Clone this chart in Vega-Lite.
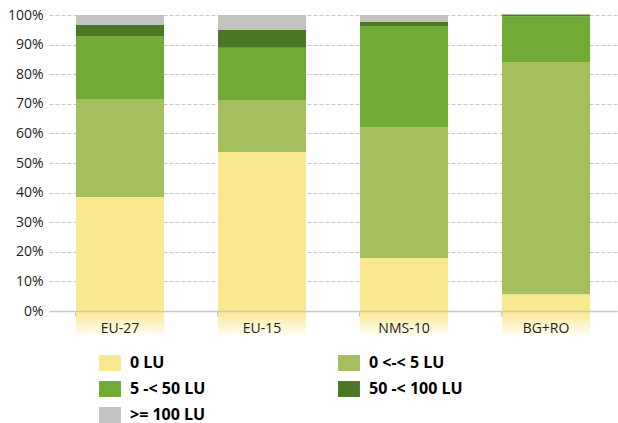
{
  "$schema": "https://vega.github.io/schema/vega-lite/v6.json",
  "autosize": "none",
  "width": 568,
  "height": 296,
  "padding": {"left": 49, "top": 15, "right": 1, "bottom": 112},
  "background": "white",
  "data": {"values": [
    {"region": "EU-27", "cls": "0 LU", "o": 1, "v": 38.5},
    {"region": "EU-27", "cls": "0 <-< 5 LU", "o": 2, "v": 33.1},
    {"region": "EU-27", "cls": "5 -< 50 LU", "o": 3, "v": 21.3},
    {"region": "EU-27", "cls": "50 -< 100 LU", "o": 4, "v": 3.7},
    {"region": "EU-27", "cls": ">= 100 LU", "o": 5, "v": 3.4},
    {"region": "EU-15", "cls": "0 LU", "o": 1, "v": 53.7},
    {"region": "EU-15", "cls": "0 <-< 5 LU", "o": 2, "v": 17.6},
    {"region": "EU-15", "cls": "5 -< 50 LU", "o": 3, "v": 17.6},
    {"region": "EU-15", "cls": "50 -< 100 LU", "o": 4, "v": 6.0},
    {"region": "EU-15", "cls": ">= 100 LU", "o": 5, "v": 5.1},
    {"region": "NMS-10", "cls": "0 LU", "o": 1, "v": 17.9},
    {"region": "NMS-10", "cls": "0 <-< 5 LU", "o": 2, "v": 44.3},
    {"region": "NMS-10", "cls": "5 -< 50 LU", "o": 3, "v": 34.1},
    {"region": "NMS-10", "cls": "50 -< 100 LU", "o": 4, "v": 1.3},
    {"region": "NMS-10", "cls": ">= 100 LU", "o": 5, "v": 2.4},
    {"region": "BG+RO", "cls": "0 LU", "o": 1, "v": 5.7},
    {"region": "BG+RO", "cls": "0 <-< 5 LU", "o": 2, "v": 78.4},
    {"region": "BG+RO", "cls": "5 -< 50 LU", "o": 3, "v": 15.5},
    {"region": "BG+RO", "cls": "50 -< 100 LU", "o": 4, "v": 0.6},
    {"region": "BG+RO", "cls": ">= 100 LU", "o": 5, "v": 0.0}
  ]},
  "encoding": {
    "x": {
      "field": "region", "type": "nominal", "sort": null,
      "scale": {"paddingInner": 0.38, "paddingOuter": 0.19},
      "axis": {
        "title": null, "labelAngle": 0, "bandPosition": 0, "zindex": 2,
        "domainColor": "#c8c8c8", "domainWidth": 1.5,
        "tickColor": "#c8c8c8", "tickSize": 5, "ticks": true,
        "labelFont": "Open Sans", "labelFontSize": 14, "labelColor": "#231f20",
        "labelPadding": 5, "grid": false
      }
    }
  },
  "layer": [
    {
      "transform": [{"filter": "datum.o == 1"}],
      "mark": {
        "type": "bar", "clip": false,
        "color": {"gradient": "linear", "x1": 0, "y1": 0, "x2": 0, "y2": 1,
          "stops": [{"offset": 0, "color": "#fae88e"}, {"offset": 1, "color": "#ffffff"}]}
      },
      "encoding": {
        "y": {
          "datum": 0, "type": "quantitative",
          "scale": {"domain": [0, 100], "nice": false, "clamp": false},
          "axis": {
            "title": null, "values": [0,10,20,30,40,50,60,70,80,90,100],
            "labelExpr": "datum.value + '%'",
            "domain": false, "ticks": false,
            "grid": true, "gridColor": "#c8c8c8", "gridDash": [4, 2], "gridWidth": 1,
            "labelFont": "Open Sans", "labelFontSize": 14, "labelColor": "#231f20",
            "labelPadding": 6
          }
        },
        "y2": {"datum": -9}
      }
    },
    {
      "mark": {"type": "bar", "clip": false},
      "encoding": {
        "y": {
          "field": "v", "type": "quantitative", "stack": "zero",
          "scale": {"domain": [0, 100], "nice": false, "clamp": false},
          "axis": {
            "title": null, "values": [0,10,20,30,40,50,60,70,80,90,100],
            "labelExpr": "datum.value + '%'",
            "domain": false, "ticks": false,
            "grid": true, "gridColor": "#c8c8c8", "gridDash": [4, 2], "gridWidth": 1,
            "labelFont": "Open Sans", "labelFontSize": 14, "labelColor": "#231f20",
            "labelPadding": 6
          }
        },
        "color": {
          "field": "cls", "type": "nominal",
          "scale": {
            "domain": ["0 LU", "5 -< 50 LU", ">= 100 LU", "0 <-< 5 LU", "50 -< 100 LU"],
            "range": ["#fae88e", "#70ab36", "#c3c3c2", "#a5be5e", "#4b7726"]
          },
          "legend": {
            "title": null, "orient": "none", "legendX": 50, "legendY": 337,
            "columns": 2, "columnPadding": 132, "rowPadding": 7, "padding": 0,
            "symbolType": "M-1,-0.727H1V0.727H-1Z", "symbolSize": 480,
            "symbolStrokeWidth": 0, "symbolOpacity": 1,
            "labelFont": "Open Sans", "labelFontSize": 16, "labelFontWeight": "bold",
            "labelColor": "#000000", "labelOffset": 9
          }
        },
        "order": {"field": "o", "type": "quantitative", "sort": "ascending"}
      }
    }
  ],
  "config": {"view": {"stroke": null}}
}
